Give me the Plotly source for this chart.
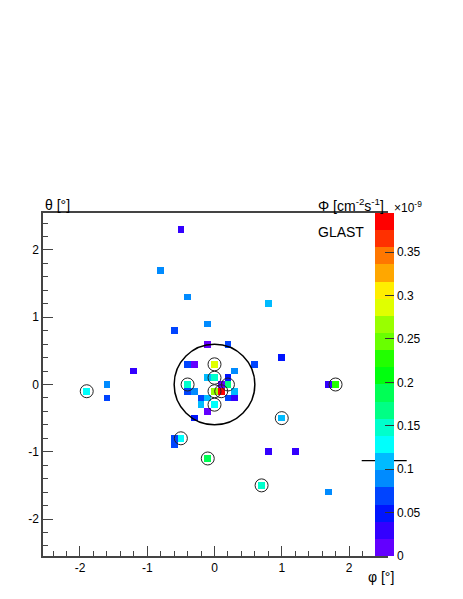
import colorsys
import numpy as np
import plotly.graph_objects as go

# ---------------- data (flux in units of 1e-9 cm^-2 s^-1) ----------------
phi_vals = [-0.5, -0.8, -0.4, 0.8, -0.1, -0.6, -0.1, 0.2, 1.0, 0.6,
            -1.2, -0.4, -0.3, 0.0, 0.3, -0.1, 0.0, 0.2, -0.4, 0.1,
            0.2, -1.6, 1.7, 1.8, -1.9, -0.4, -0.3, 0.0, 0.1, 0.3,
            -1.6, -0.2, -0.1, 0.2, 0.3, -0.2, 0.0, -0.1, -0.3, 1.0,
            -0.6, -0.5, -0.6, -0.1, 0.8, 1.2, 0.7, 1.7]
theta_vals = [2.3, 1.7, 1.3, 1.2, 0.9, 0.8, 0.6, 0.6, 0.4, 0.3,
              0.2, 0.3, 0.3, 0.3, 0.2, 0.1, 0.1, 0.1, 0.0, 0.0,
              0.0, 0.0, 0.0, 0.0, -0.1, -0.1, -0.1, -0.1, -0.1, -0.1,
              -0.2, -0.2, -0.2, -0.2, -0.2, -0.3, -0.3, -0.4, -0.5, -0.5,
              -0.8, -0.8, -0.9, -1.1, -1.0, -1.0, -1.5, -1.6]
flux_vals = [0.030, 0.089, 0.089, 0.109, 0.089, 0.069, 0.012, 0.069, 0.049, 0.069,
             0.030, 0.069, 0.012, 0.286, 0.089, 0.105, 0.148, 0.049, 0.148, 0.012,
             0.168, 0.089, 0.030, 0.227, 0.128, 0.069, 0.089, 0.267, 0.395, 0.109,
             0.069, 0.060, 0.109, 0.060, 0.020, 0.100, 0.128, 0.015, 0.049, 0.109,
             0.060, 0.128, 0.060, 0.180, 0.030, 0.030, 0.148, 0.089]

# sources marked with small circles
circ_phi = [0.0, 0.0, -0.4, 0.2, 0.0, 0.1, 0.0, -1.9, -0.5, -0.1, 1.8, 1.0, 0.7]
circ_theta = [0.3, 0.1, 0.0, 0.0, -0.1, -0.1, -0.3, -0.1, -0.8, -1.1, 0.0, -0.5, -1.5]

roi_center = (0.0, 0.0)
roi_radius = 0.6

axis_ticks = [-2, -1, 0, 1, 2]
axis_ticktext = ["-2", "-1", "0", "1", "2"]
cb_ticks = [0, 0.05, 0.1, 0.15, 0.2, 0.25, 0.3, 0.35]
cb_ticktext = ["0", "0.05", "0.1", "0.15", "0.2", "0.25", "0.3", "0.35"]

# ---------------- histogram grid ----------------
nb = 51
centers = np.round(np.linspace(-2.5, 2.5, nb), 2)
z = np.full((nb, nb), np.nan)
for p, t, f in zip(phi_vals, theta_vals, flux_vals):
    ix = int(round((p + 2.5) / 0.1))
    iy = int(round((t + 2.5) / 0.1))
    z[iy, ix] = f

zmin, zmax = 0.0, max(flux_vals)

# ROOT "pretty" palette (hue 280 -> 0), 20 contour levels
ncont = 20
colors = []
for k in range(ncont):
    j = int((k + 0.99) * 50 / ncont)
    if j >= 49:
        r, g, b = 1.0, 0.0, 0.0
    else:
        hue = 280 - (j + 1) * 5.6
        r, g, b = colorsys.hls_to_rgb(hue / 360.0, 0.5, 1.0)
    colors.append("rgb(%d,%d,%d)" % (round(r * 255), round(g * 255), round(b * 255)))
colorscale = []
for k, c in enumerate(colors):
    colorscale.append([k / ncont, c])
    colorscale.append([(k + 1) / ncont, c])

FONT = "Liberation Sans, Arial, Helvetica, sans-serif"

fig = go.Figure()
fig.add_trace(go.Heatmap(
    x=centers, y=centers, z=z, zmin=zmin, zmax=zmax,
    colorscale=colorscale, hoverongaps=False, xgap=0, ygap=0,
    colorbar=dict(
        x=(375 - 43) / 343, xanchor="left", xpad=0, ypad=0,
        y=0.5, yanchor="middle", len=1.0, lenmode="fraction",
        thickness=19, outlinewidth=0,
        tickmode="array", tickvals=cb_ticks, ticktext=cb_ticktext,
        ticks="inside", ticklen=9, tickcolor="#333", tickwidth=1,
        tickfont=dict(family=FONT, size=12, color="black"),
    ),
))
fig.add_trace(go.Scatter(
    x=circ_phi, y=circ_theta, mode="markers",
    marker=dict(symbol="circle-open", size=13, color="#222", line=dict(width=1)),
    hoverinfo="skip", showlegend=False,
))

fig.add_shape(type="circle", xref="x", yref="y",
              x0=roi_center[0] - roi_radius, x1=roi_center[0] + roi_radius,
              y0=roi_center[1] - roi_radius, y1=roi_center[1] + roi_radius,
              line=dict(color="black", width=1.5), layer="above")
# stray horizontal line across the palette
fig.add_shape(type="line", xref="paper", yref="paper",
              x0=(361.7 - 43) / 343, x1=(406.7 - 43) / 343,
              y0=(556 - 460.7) / 343, y1=(556 - 460.7) / 343,
              line=dict(color="black", width=1.2))

axis_common = dict(
    tickmode="array", tickvals=axis_ticks, ticktext=axis_ticktext,
    ticks="inside", ticklen=10, tickcolor="#444", tickwidth=1,
    showline=True, linecolor="#444", linewidth=1.5, mirror=True,
    showgrid=False, zeroline=False, automargin=False,
    tickfont=dict(family=FONT, size=12, color="black"),
    minor=dict(tickmode="linear", tick0=0, dtick=0.2, ticks="inside",
               ticklen=5, tickcolor="#444", tickwidth=1, showgrid=False),
    range=[-2.55, 2.55], fixedrange=True,
)
fig.update_xaxes(**axis_common)
fig.update_yaxes(**axis_common)

ann = []
ann.append(dict(text="θ [°]", xref="paper", yref="paper", x=0.0, y=1 + 8 / 343,
                xanchor="left", yanchor="middle", showarrow=False,
                font=dict(family=FONT, size=14, color="black")))
ann.append(dict(text="Φ [cm<sup>-2</sup>s<sup>-1</sup>]", xref="paper", yref="paper",
                x=(386 - 43) / 343, y=1 + 8 / 343, xanchor="right", yanchor="middle",
                showarrow=False, font=dict(family=FONT, size=14, color="black")))
ann.append(dict(text="×10<sup>-9</sup>", xref="paper", yref="paper",
                x=(392 - 43) / 343, y=1 + 6 / 343, xanchor="left", yanchor="middle",
                showarrow=False, font=dict(family=FONT, size=12, color="black")))
ann.append(dict(text="GLAST", xref="paper", yref="paper",
                x=(366 - 43) / 343, y=(556 - 232) / 343, xanchor="right", yanchor="middle",
                showarrow=False, font=dict(family=FONT, size=14, color="black")))
ann.append(dict(text="φ [°]", xref="paper", yref="paper",
                x=(396 - 43) / 343, y=(556 - 577) / 343, xanchor="right", yanchor="middle",
                showarrow=False, font=dict(family=FONT, size=14, color="black")))

fig.update_layout(
    width=463, height=599,
    margin=dict(l=43, r=77, t=213, b=43, pad=0, autoexpand=False),
    paper_bgcolor="white", plot_bgcolor="white",
    showlegend=False, annotations=ann,
)

fig.write_html("out.html", config={"displayModeBar": False},
               post_script="document.body.style.margin='0';document.body.style.overflow='hidden';")
